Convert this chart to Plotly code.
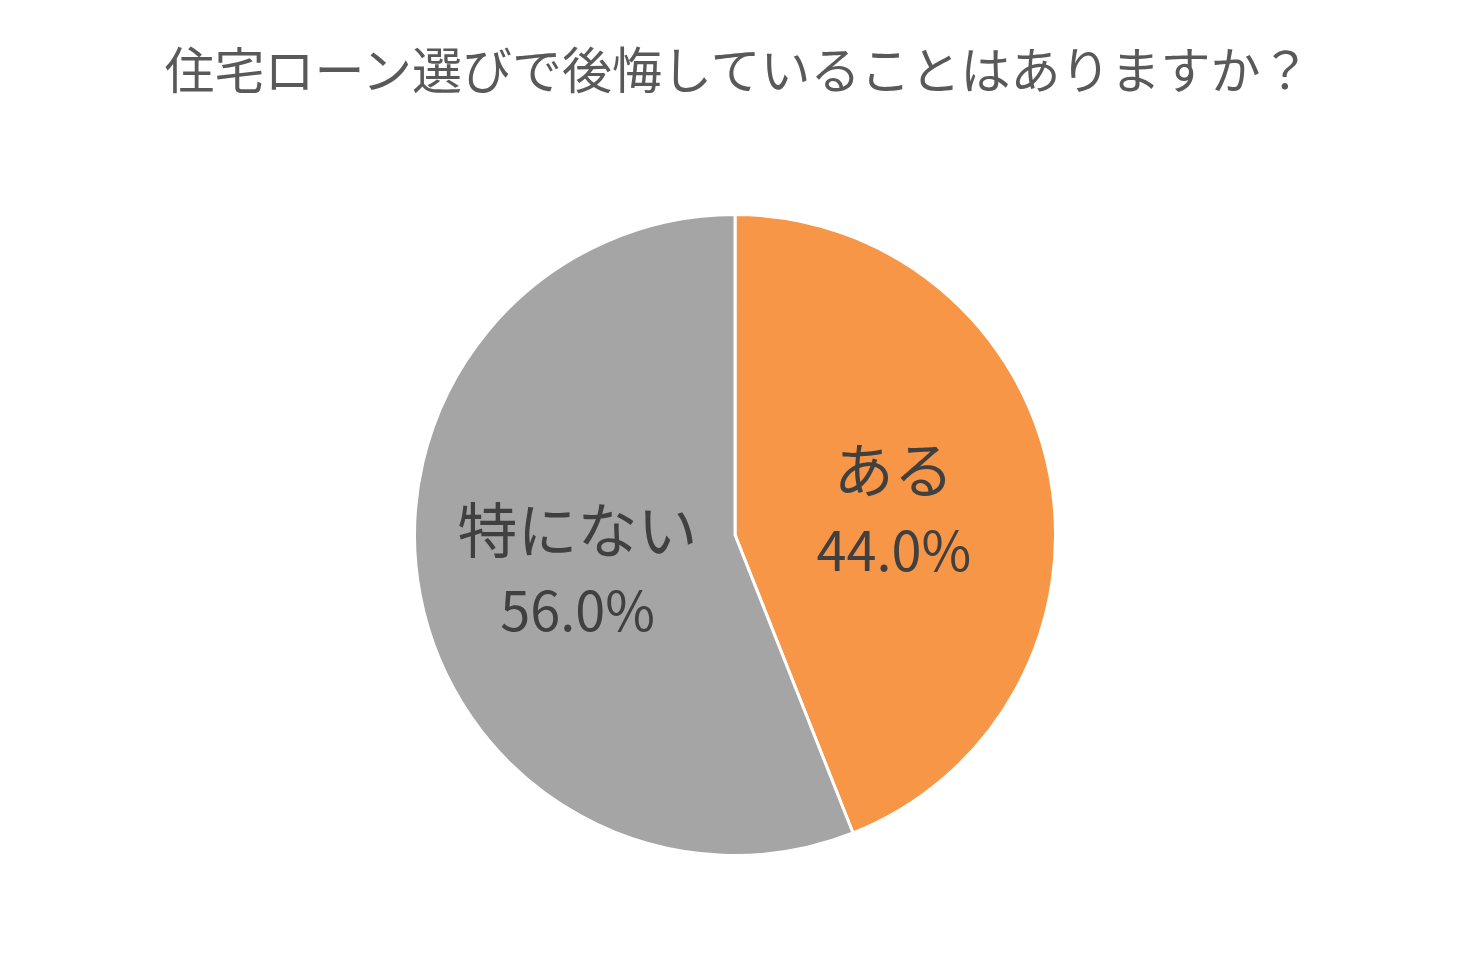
import plotly.graph_objects as go

labels = ["ある", "特にない"]
values = [44.0, 56.0]
colors = ["#F79646", "#A5A5A5"]
title = "住宅ローン選びで後悔していることはありますか？"

fig = go.Figure(go.Pie(
    labels=labels,
    values=values,
    sort=False,
    direction="clockwise",
    rotation=0,
    marker=dict(colors=colors, line=dict(color="white", width=3)),
    texttemplate="%{label}<br><span style='font-size:54px'>%{percent:.1%}</span>",
    textposition="inside",
    insidetextorientation="horizontal",
    textfont=dict(family="Noto Sans CJK JP", size=60, color="#404040"),
    hoverinfo="label+percent",
    domain=dict(x=[0.2769, 0.7136], y=[0.1181, 0.7851]),
))

fig.update_layout(
    width=1468, height=961,
    margin=dict(l=0, r=0, t=0, b=0),
    paper_bgcolor="white",
    showlegend=False,
    uniformtext=dict(minsize=60, mode="show"),
    title=dict(
        text=title, x=0.497, xanchor="center", y=0.934, yanchor="middle",
        font=dict(family="Noto Sans CJK JP", size=50, color="#595959"),
    ),
)

fig.write_html("out.html")
